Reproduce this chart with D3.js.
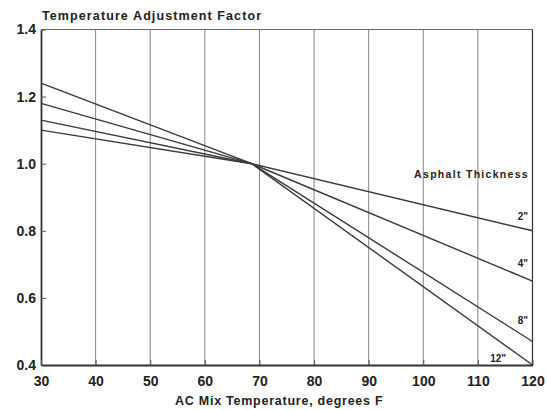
<!DOCTYPE html>
<html><head><meta charset="utf-8">
<script src="https://cdn.jsdelivr.net/npm/d3@7"></script>
<style>body{margin:0;background:#fff}svg text{font-family:"Liberation Sans",Arial,sans-serif;font-weight:bold;fill:#222}</style>
</head><body><svg id="c" width="547" height="410"></svg>
<script>
const temps = [30, 68.6, 120];
const thicknesses = ['2"', '4"', '8"', '12"'];
const factors = [
  [1.10, 1.0, 0.80],
  [1.13, 1.0, 0.65],
  [1.18, 1.0, 0.47],
  [1.24, 1.0, 0.40]
];
const xTicks = [30,40,50,60,70,80,90,100,110,120];
const yTicks = [0.4,0.6,0.8,1.0,1.2,1.4];

const svg = d3.select('#c');
const x = d3.scaleLinear().domain([30,120]).range([41,532.5]);
const y = d3.scaleLinear().domain([0.4,1.4]).range([365,29.5]);

// vertical grid
svg.append('g').selectAll('line').data(xTicks.slice(1,-1)).join('line')
  .attr('x1',d=>x(d)).attr('x2',d=>x(d)).attr('y1',y(1.4)).attr('y2',y(0.4))
  .attr('stroke','#777').attr('stroke-width',0.9);
// top border
svg.append('line').attr('x1',x(30)).attr('x2',x(120)).attr('y1',y(1.4)).attr('y2',y(1.4)).attr('stroke','#666').attr('stroke-width',1);
svg.append('line').attr('x1',x(120)).attr('x2',x(120)).attr('y1',y(1.4)).attr('y2',y(0.4)).attr('stroke','#333').attr('stroke-width',1.2);

// axes
const yAxis = svg.append('g').attr('transform',`translate(${x(30)},0)`)
  .call(d3.axisLeft(y).tickValues(yTicks).tickFormat(d3.format('.1f')).tickSizeInner(-5).tickSizeOuter(0).tickPadding(8));
const xAxis = svg.append('g').attr('transform',`translate(0,${y(0.4)})`)
  .call(d3.axisBottom(x).tickValues(xTicks).tickFormat(d3.format('d')).tickSizeInner(-5).tickSizeOuter(0).tickPadding(11));
[yAxis,xAxis].forEach(a=>{
  a.select('.domain').attr('stroke','#333').attr('stroke-width',1.8);
  a.selectAll('.tick line').attr('stroke','#555');
  a.selectAll('text').style('font-size','14px').attr('fill','#222');
});
yAxis.selectAll('text').attr('dx',3);

// lines
const line = d3.line().x((d,i)=>x(temps[i])).y(d=>y(d));
svg.append('g').selectAll('path').data(factors).join('path')
  .attr('d',line).attr('fill','none').attr('stroke','#3a3a3a').attr('stroke-width',1.4);

// labels
svg.append('text').attr('x',42).attr('y',20).style('font-size','12.5px').style('letter-spacing','1.1px').text('Temperature Adjustment Factor');
svg.append('text').attr('x',175).attr('y',405).style('font-size','12.5px').style('letter-spacing','0.75px').text('AC Mix Temperature, degrees F');
svg.append('text').attr('x',529).attr('y',178).attr('text-anchor','end').style('font-size','10.5px').style('letter-spacing','1.3px').text('Asphalt Thickness');
const labY = [0.815, 0.675, 0.505, 0.39];
const labX = [528, 528, 528, 506];
svg.append('g').selectAll('text').data(thicknesses).join('text')
  .attr('x',(d,i)=>labX[i]).attr('y',(d,i)=>y(labY[i])-6).attr('text-anchor','end')
  .style('font-size','10px').text(d=>d);
</script></body></html>
